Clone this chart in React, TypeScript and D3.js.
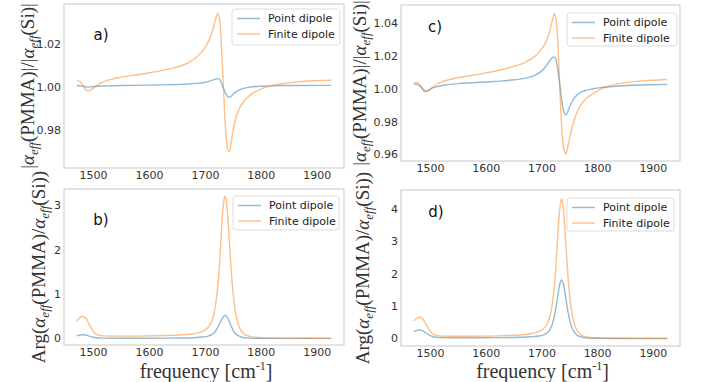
import React from "react";
import * as d3 from "d3";

// ---------- data ----------
const freqMag = [1470, 1476, 1482, 1487, 1491, 1496, 1502, 1510, 1520, 1535, 1550, 1575, 1600, 1625, 1650, 1670, 1685, 1697, 1706, 1713, 1718, 1722, 1725, 1728, 1731, 1734, 1737, 1740, 1743, 1746, 1750, 1755, 1762, 1770, 1780, 1792, 1805, 1820, 1840, 1865, 1895, 1925];

const aPoint = [1.0008, 1.0008, 1.0006, 1.0003, 1.0002, 1.0003, 1.0005, 1.0006, 1.0007, 1.0008, 1.0009, 1.001, 1.0011, 1.0012, 1.0014, 1.0016, 1.0019, 1.0023, 1.0028, 1.0034, 1.0039, 1.0041, 1.0038, 1.0025, 1.0006, 0.9986, 0.9968, 0.9958, 0.9955, 0.996, 0.997, 0.998, 0.999, 0.9997, 1.0002, 1.0005, 1.0007, 1.0008, 1.0009, 1.0009, 1.001, 1.001];
const aFinite = [1.0032, 1.0028, 1.0005, 0.9988, 0.9984, 0.999, 1.0003, 1.0016, 1.0028, 1.004, 1.0048, 1.0058, 1.0068, 1.008, 1.0095, 1.0115, 1.0142, 1.0175, 1.0215, 1.0265, 1.0312, 1.0343, 1.0322, 1.0225, 1.0075, 0.9905, 0.9775, 0.9712, 0.9705, 0.9745, 0.981, 0.9865, 0.991, 0.994, 0.9965, 0.9985, 0.9999, 1.001, 1.0019, 1.0026, 1.0031, 1.0034];

const cPoint = [1.003, 1.003, 1.0018, 1.0, 0.999, 0.9993, 1.0005, 1.0015, 1.0022, 1.003, 1.0035, 1.004, 1.0045, 1.005, 1.0058, 1.0068, 1.0082, 1.0105, 1.0135, 1.017, 1.0192, 1.0198, 1.0185, 1.0135, 1.006, 0.9975, 0.99, 0.9855, 0.9845, 0.986, 0.9895, 0.993, 0.9962, 0.9982, 0.9995, 1.0003, 1.001, 1.0015, 1.002, 1.0025, 1.0028, 1.003];
const cFinite = [1.004, 1.0042, 1.002, 0.9995, 0.9984, 0.999, 1.0008, 1.0028, 1.0045, 1.006, 1.0072, 1.0085, 1.01, 1.0118, 1.014, 1.0165, 1.0195, 1.0235, 1.028, 1.034, 1.041, 1.0462, 1.044, 1.032, 1.01, 0.986, 0.97, 0.9625, 0.9605, 0.964, 0.971, 0.978, 0.985, 0.9905, 0.9945, 0.9975, 1.0, 1.002, 1.0035, 1.0047, 1.0055, 1.006];

const freqArg = [1470, 1475, 1480, 1485, 1490, 1495, 1500, 1505, 1512, 1520, 1540, 1570, 1600, 1630, 1660, 1680, 1695, 1705, 1712, 1718, 1723, 1727, 1730, 1733, 1735, 1737, 1740, 1743, 1747, 1751, 1756, 1762, 1770, 1780, 1795, 1815, 1850, 1890, 1925];

const bPoint = [0.07, 0.08, 0.09, 0.085, 0.07, 0.05, 0.035, 0.025, 0.018, 0.015, 0.012, 0.012, 0.013, 0.015, 0.018, 0.025, 0.04, 0.06, 0.1, 0.17, 0.28, 0.38, 0.46, 0.51, 0.53, 0.52, 0.47, 0.38, 0.26, 0.16, 0.09, 0.05, 0.025, 0.015, 0.01, 0.01, 0.01, 0.01, 0.01];
const bFinite = [0.4, 0.47, 0.51, 0.48, 0.39, 0.26, 0.16, 0.1, 0.075, 0.065, 0.06, 0.06, 0.065, 0.075, 0.09, 0.12, 0.17, 0.26, 0.42, 0.75, 1.3, 2.05, 2.7, 3.12, 3.22, 3.15, 2.75, 2.15, 1.4, 0.85, 0.45, 0.22, 0.1, 0.05, 0.03, 0.02, 0.015, 0.012, 0.01];

const dPoint = [0.22, 0.26, 0.27, 0.26, 0.21, 0.15, 0.1, 0.065, 0.045, 0.04, 0.035, 0.035, 0.037, 0.04, 0.05, 0.065, 0.09, 0.14, 0.23, 0.42, 0.75, 1.15, 1.5, 1.75, 1.82, 1.78, 1.58, 1.25, 0.82, 0.5, 0.26, 0.13, 0.06, 0.03, 0.02, 0.015, 0.012, 0.01, 0.01];
const dFinite = [0.55, 0.63, 0.67, 0.64, 0.52, 0.36, 0.22, 0.14, 0.1, 0.085, 0.08, 0.08, 0.085, 0.1, 0.12, 0.16, 0.23, 0.35, 0.56, 1.0, 1.75, 2.75, 3.6, 4.15, 4.32, 4.22, 3.7, 2.9, 1.9, 1.15, 0.6, 0.3, 0.13, 0.06, 0.035, 0.025, 0.02, 0.015, 0.015];

const xTicks = [1500, 1600, 1700, 1800, 1900];
const aTicks = [0.98, 1.0, 1.02];
const cTicks = [0.96, 0.98, 1.0, 1.02, 1.04];
const bTicks = [0, 1, 2, 3];
const dTicks = [0, 1, 2, 3, 4];
const seriesNames = ["Point dipole", "Finite dipole"];
const seriesColors = ["#1f77b4", "#ff7f0e"];

const X_DOMAIN: [number, number] = [1447.25, 1947.75];

type Panel = {
  letter: string;
  kind: "mag" | "arg";
  box: [number, number, number, number];
  yDomain: [number, number];
  yTicks: number[];
  fmt: string;
  freq: number[];
  series: number[][];
  letterPos: [number, number];
  legend: [number, number, number, number];
  ylabelX: number;
  xlabel: boolean;
};

const panels: Panel[] = [
  { letter: "a)", kind: "mag", box: [64, 4, 344, 168], yDomain: [0.9629, 1.0385], yTicks: aTicks, fmt: ".2f", freq: freqMag, series: [aPoint, aFinite], letterPos: [101, 35], legend: [232, 9, 108, 36], ylabelX: 34, xlabel: false },
  { letter: "b)", kind: "arg", box: [64, 189, 344, 345], yDomain: [-0.14, 3.38], yTicks: bTicks, fmt: "d", freq: freqArg, series: [bPoint, bFinite], letterPos: [101, 220], legend: [233, 196, 106, 34], ylabelX: 45, xlabel: true },
  { letter: "c)", kind: "mag", box: [401, 5, 680, 161], yDomain: [0.9562, 1.0515], yTicks: cTicks, fmt: ".2f", freq: freqMag, series: [cPoint, cFinite], letterPos: [435, 27], legend: [567, 13, 110, 33], ylabelX: 366, xlabel: false },
  { letter: "d)", kind: "arg", box: [401, 190, 680, 346], yDomain: [-0.22, 4.6], yTicks: dTicks, fmt: "d", freq: freqArg, series: [dPoint, dFinite], letterPos: [436, 212], legend: [567, 198, 107, 33], ylabelX: 369, xlabel: true },
];

const SERIF = "'Liberation Serif', 'Times New Roman', serif";
const SANS = "'DejaVu Sans', sans-serif";

function YLabel({ p }: { p: Panel }) {
  const cy = (p.box[1] + p.box[3]) / 2;
  const fs = 19;
  const sub = (k: string) => (
    <tspan key={k} fontStyle="italic" fontSize={13} dy={4}>eff</tspan>
  );
  return (
    <text
      transform={`translate(${p.ylabelX},${cy}) rotate(-90)`}
      textAnchor="middle"
      fontFamily={SERIF}
      fontSize={fs}
      fill="#333"
    >
      {p.kind === "mag" ? (
        <>
          <tspan>|</tspan>
          <tspan fontStyle="italic">α</tspan>
          {sub("s1")}
          <tspan dy={-4}>(PMMA)|/|</tspan>
          <tspan fontStyle="italic">α</tspan>
          {sub("s2")}
          <tspan dy={-4}>(Si)|</tspan>
        </>
      ) : (
        <>
          <tspan>Arg(</tspan>
          <tspan fontStyle="italic">α</tspan>
          {sub("s1")}
          <tspan dy={-4}>(PMMA)/</tspan>
          <tspan fontStyle="italic">α</tspan>
          {sub("s2")}
          <tspan dy={-4}>(Si))</tspan>
        </>
      )}
    </text>
  );
}

function PanelView({ p }: { p: Panel }) {
  const [x0, y0, x1, y1] = p.box;
  const x = d3.scaleLinear().domain(X_DOMAIN).range([x0, x1]);
  const y = d3.scaleLinear().domain(p.yDomain).range([y1, y0]);
  const fmt = d3.format(p.fmt);
  const line = d3
    .line<number>()
    .x((_, i) => x(p.freq[i]))
    .y((v) => y(v))
    .curve(d3.curveMonotoneX);
  const [lx, ly, lw, lh] = p.legend;
  const clipId = "clip-" + p.letter[0];
  return (
    <g>
      <defs>
        <clipPath id={clipId}>
          <rect x={x0} y={y0} width={x1 - x0} height={y1 - y0} />
        </clipPath>
      </defs>
      <g clipPath={`url(#${clipId})`}>
        {p.series.map((s, i) => (
          <path
            key={i}
            d={line(s) || ""}
            fill="none"
            stroke={seriesColors[i]}
            strokeOpacity={0.5}
            strokeWidth={1.4}
          />
        ))}
      </g>
      <rect x={x0} y={y0} width={x1 - x0} height={y1 - y0} fill="none" stroke="#c8c8c8" strokeWidth={1} />
      {xTicks.map((t) => (
        <text key={t} x={x(t)} y={y1 + 7} textAnchor="middle" dominantBaseline="central" fontFamily={SANS} fontSize={11} fill="#333">
          {t}
        </text>
      ))}
      {p.yTicks.map((t) => (
        <text key={t} x={x0 - 3} y={y(t)} textAnchor="end" dominantBaseline="central" fontFamily={SANS} fontSize={11} fill="#333">
          {fmt(t)}
        </text>
      ))}
      <text x={p.letterPos[0]} y={p.letterPos[1]} textAnchor="middle" dominantBaseline="central" fontFamily={SANS} fontSize={15} fill="#111">
        {p.letter}
      </text>
      <rect x={lx} y={ly} width={lw} height={lh} rx={3} fill="white" fillOpacity={0.8} stroke="#dddddd" strokeWidth={1} />
      {seriesNames.map((n, i) => {
        const ry = ly + 9.5 + i * 15.5;
        return (
          <g key={n}>
            <line x1={lx + 5} x2={lx + 28} y1={ry} y2={ry} stroke={seriesColors[i]} strokeOpacity={0.5} strokeWidth={1.4} />
            <text x={lx + 36} y={ry} dominantBaseline="central" fontFamily={SANS} fontSize={11} fill="#222">
              {n}
            </text>
          </g>
        );
      })}
      <YLabel p={p} />
      {p.xlabel && (
        <text x={(x0 + x1) / 2 + 2} y={378} textAnchor="middle" fontFamily={SERIF} fontSize={20} fill="#333">
          frequency [cm<tspan fontSize={12} dy={-8}>-1</tspan>
          <tspan dy={8}>]</tspan>
        </text>
      )}
    </g>
  );
}

export default function App() {
  return (
    <svg width={702} height={382} style={{ position: "absolute", left: 0, top: 0, background: "white" }}>
      <rect width={702} height={382} fill="white" />
      {panels.map((p) => (
        <PanelView key={p.letter} p={p} />
      ))}
    </svg>
  );
}
